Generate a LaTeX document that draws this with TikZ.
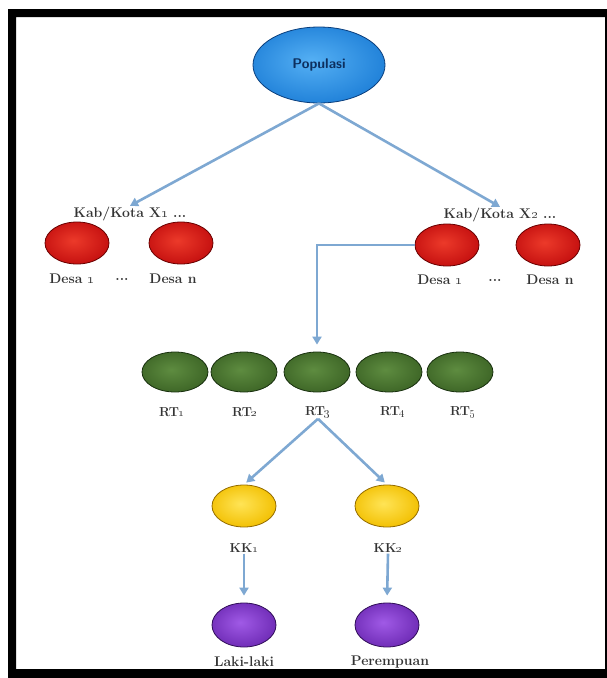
\documentclass[tikz,border=0pt]{standalone}
\usetikzlibrary{shapes.geometric,arrows.meta}
\definecolor{redI}{HTML}{EC3A2A}\definecolor{redM}{HTML}{C40F0F}\definecolor{redO}{HTML}{6A0000}
\definecolor{greenI}{HTML}{5E8C40}\definecolor{greenM}{HTML}{3D6526}\definecolor{greenO}{HTML}{18300E}
\definecolor{yellowI}{HTML}{FFE456}\definecolor{yellowM}{HTML}{F2BF00}\definecolor{yellowO}{HTML}{946C00}
\definecolor{purpleI}{HTML}{A05AE6}\definecolor{purpleM}{HTML}{6E2BB5}\definecolor{purpleO}{HTML}{300E58}
\definecolor{blueI}{HTML}{55B0F4}\definecolor{blueM}{HTML}{1F80D8}\definecolor{blueO}{HTML}{0A3E7C}
\definecolor{arrowblue}{HTML}{7EA8D2}
\definecolor{poptext}{HTML}{0D2F5E}
\pgfdeclareradialshading{egg-red}{\pgfpoint{-3bp}{3bp}}{color(0bp)=(redI); color(28bp)=(redM); color(42bp)=(redM!65!redO); color(50bp)=(redO)}
\pgfdeclareradialshading{egg-green}{\pgfpoint{-3bp}{3bp}}{color(0bp)=(greenI); color(28bp)=(greenM); color(42bp)=(greenM!65!greenO); color(50bp)=(greenO)}
\pgfdeclareradialshading{egg-yellow}{\pgfpoint{-3bp}{3bp}}{color(0bp)=(yellowI); color(28bp)=(yellowM); color(42bp)=(yellowM!65!yellowO); color(50bp)=(yellowO)}
\pgfdeclareradialshading{egg-purple}{\pgfpoint{-3bp}{3bp}}{color(0bp)=(purpleI); color(28bp)=(purpleM); color(42bp)=(purpleM!65!purpleO); color(50bp)=(purpleO)}
\pgfdeclareradialshading{egg-blue}{\pgfpoint{-3bp}{3bp}}{color(0bp)=(blueI); color(28bp)=(blueM); color(42bp)=(blueM!65!blueO); color(50bp)=(blueO)}
\begin{document}
\begin{tikzpicture}[x=1pt,y=-1pt,
  egg/.style={ellipse, minimum width=64, minimum height=42, inner sep=0, shading=egg-#1, draw=#1O, line width=0.8},
  lbl/.style={font=\bfseries\fontsize{14}{16}\selectfont, text=black!80, inner sep=1},
  slbl/.style={font=\bfseries\fontsize{13}{15}\selectfont, text=black!80, inner sep=1},
  arr/.style={draw=arrowblue, line width=2.6, -{Triangle[length=8,width=9]}}]
\useasboundingbox (0,0) rectangle (607,678);
\fill[black, even odd rule] (8,9) rectangle (607,678) (16,17) rectangle (605,669);

% top
\node[egg=blue, minimum width=132, minimum height=76, text=poptext, font=\sffamily\bfseries\fontsize{14}{16}\selectfont] (pop) at (319,65) {Populasi};

% kab/kota level
\node[lbl] (kab1) at (130,214) {Kab/Kota X\oldstylenums{1} ...};
\node[lbl] (kab2) at (500,215) {Kab/Kota X\oldstylenums{2} ...};
\node[egg=red] (l1) at (77,243) {};
\node[egg=red] (l2) at (181,243) {};
\node[egg=red] (r1) at (447,245) {};
\node[egg=red] (r2) at (548,245) {};
\node[lbl] (dl1) at (72,279) {Desa \oldstylenums{1}};
\node[lbl] (dl2) at (122,279) {...};
\node[lbl] (dl3) at (173,279) {Desa n};
\node[lbl] (dr1) at (440,280) {Desa \oldstylenums{1}};
\node[lbl] (dr2) at (495,280) {...};
\node[lbl] (dr3) at (550,280) {Desa n};

% RT level
\node[egg=green, minimum width=66, minimum height=40] (rt1) at (175,372) {};
\node[egg=green, minimum width=66, minimum height=40] (rt2) at (244,372) {};
\node[egg=green, minimum width=66, minimum height=40] (rt3) at (317,372) {};
\node[egg=green, minimum width=66, minimum height=40] (rt4) at (389,372) {};
\node[egg=green, minimum width=66, minimum height=40] (rt5) at (460,372) {};
\node[slbl] (t1) at (172,412) {RT\oldstylenums{1}};
\node[slbl] (t2) at (245,412) {RT\oldstylenums{2}};
\node[slbl] (t3) at (318,412) {RT\oldstylenums{3}};
\node[slbl] (t4) at (393,412) {RT\oldstylenums{4}};
\node[slbl] (t5) at (463,412) {RT\oldstylenums{5}};

% KK level
\node[egg=yellow] (k1) at (244,506) {};
\node[egg=yellow] (k2) at (387,506) {};
\node[slbl] (kl1) at (244,548) {KK\oldstylenums{1}};
\node[slbl] (kl2) at (388,548) {KK\oldstylenums{2}};

% gender level
\node[egg=purple, minimum height=44] (p1) at (244,625) {};
\node[egg=purple, minimum height=44] (p2) at (387,625) {};
\node[lbl] (pl1) at (244,662) {Laki-laki};
\node[lbl] (pl2) at (390,662) {Perempuan};

% connectors
\draw[arr] (pop.south) -- (kab1.north);
\draw[arr] (pop.south) -- (kab2.north);
\draw[arr, shorten >=7] (r1.west) -| (rt3.north);
\draw[arr, shorten >=3] (t3.south) -- (k1.north);
\draw[arr, shorten >=3] (t3.south) -- (k2.north);
\draw[arr, shorten >=7] (kl1.south) -- (p1.north);
\draw[arr, shorten >=7] (kl2.south) -- (p2.north);
\end{tikzpicture}
\end{document}
